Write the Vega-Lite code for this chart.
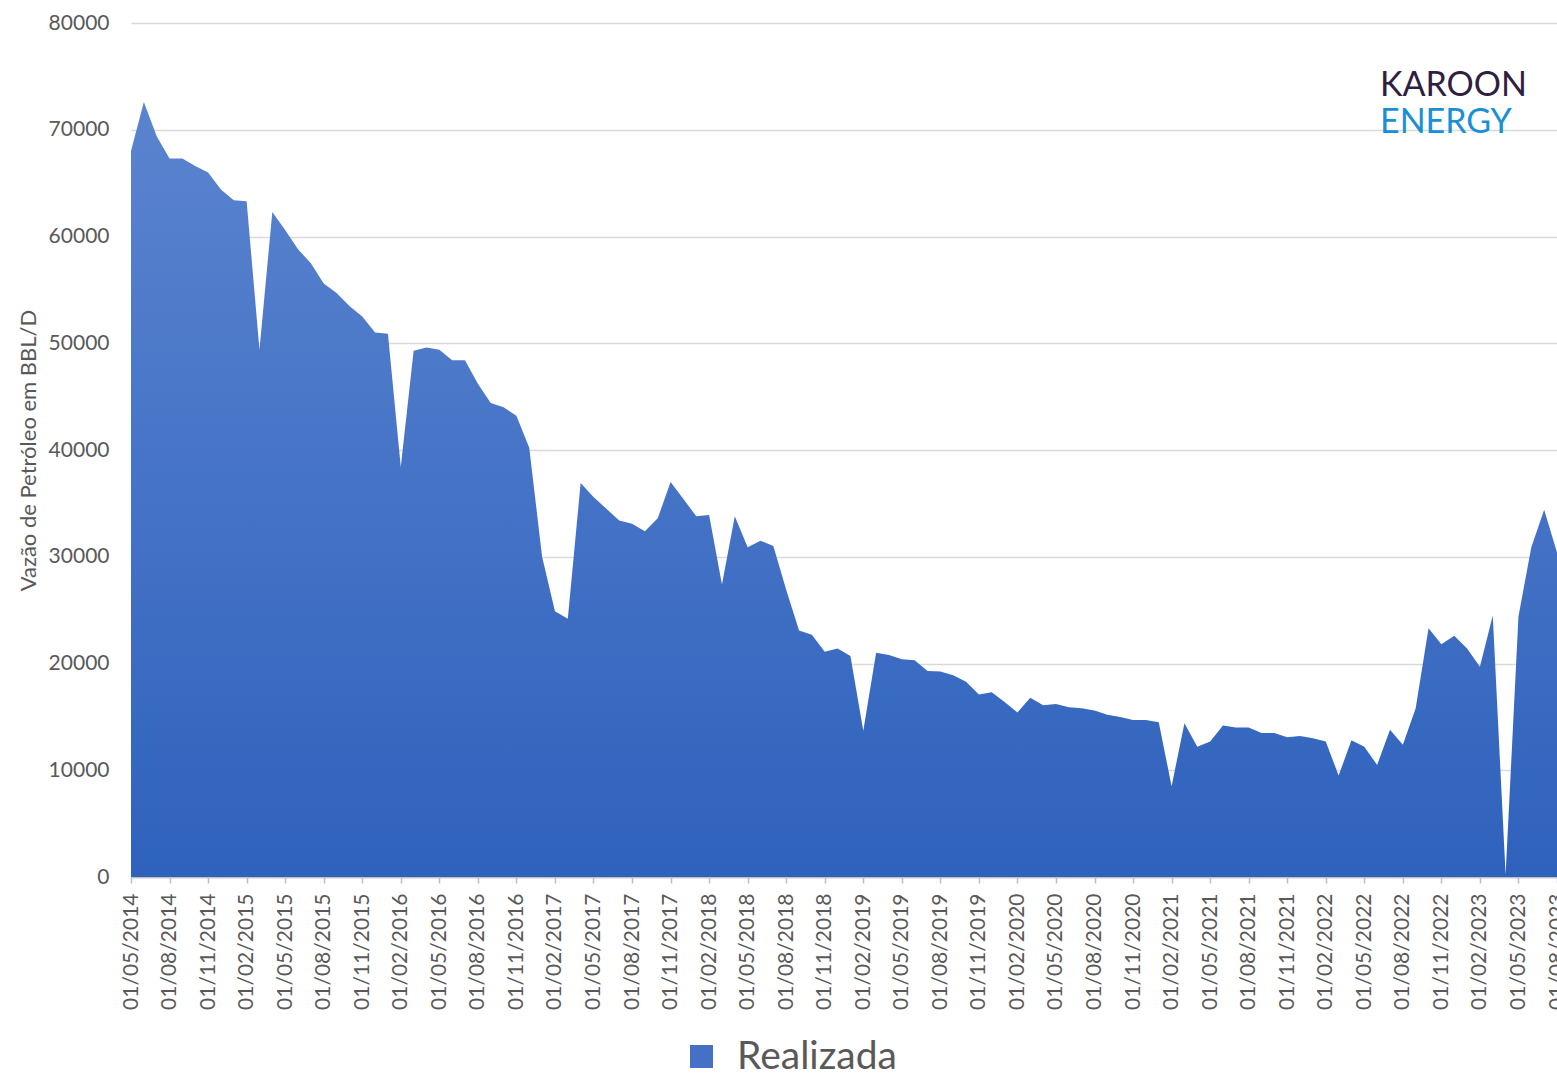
{
  "$schema": "https://vega.github.io/schema/vega-lite/v6.json",
  "autosize": {"type": "none"},
  "width": 1426,
  "height": 854,
  "padding": {"left": 131, "top": 23, "right": 0, "bottom": 198},
  "background": "white",
  "title": {
    "text": "KAROON",
    "subtitle": "ENERGY",
    "anchor": "start",
    "frame": "group",
    "dx": 1249,
    "dy": 128,
    "offset": 0,
    "font": "Lato",
    "fontSize": 34,
    "fontWeight": "normal",
    "color": "#2e2040",
    "subtitleFont": "Lato",
    "subtitleFontSize": 34,
    "subtitleColor": "#1b8fd5",
    "subtitlePadding": 3
  },
  "data": {
    "values": [
      {"mes": "01/05/2014", "vazao": 68000, "serie": "Realizada"},
      {"mes": "01/06/2014", "vazao": 72600, "serie": "Realizada"},
      {"mes": "01/07/2014", "vazao": 69400, "serie": "Realizada"},
      {"mes": "01/08/2014", "vazao": 67300, "serie": "Realizada"},
      {"mes": "01/09/2014", "vazao": 67300, "serie": "Realizada"},
      {"mes": "01/10/2014", "vazao": 66600, "serie": "Realizada"},
      {"mes": "01/11/2014", "vazao": 66000, "serie": "Realizada"},
      {"mes": "01/12/2014", "vazao": 64400, "serie": "Realizada"},
      {"mes": "01/01/2015", "vazao": 63400, "serie": "Realizada"},
      {"mes": "01/02/2015", "vazao": 63300, "serie": "Realizada"},
      {"mes": "01/03/2015", "vazao": 49400, "serie": "Realizada"},
      {"mes": "01/04/2015", "vazao": 62300, "serie": "Realizada"},
      {"mes": "01/05/2015", "vazao": 60600, "serie": "Realizada"},
      {"mes": "01/06/2015", "vazao": 58800, "serie": "Realizada"},
      {"mes": "01/07/2015", "vazao": 57500, "serie": "Realizada"},
      {"mes": "01/08/2015", "vazao": 55600, "serie": "Realizada"},
      {"mes": "01/09/2015", "vazao": 54700, "serie": "Realizada"},
      {"mes": "01/10/2015", "vazao": 53500, "serie": "Realizada"},
      {"mes": "01/11/2015", "vazao": 52500, "serie": "Realizada"},
      {"mes": "01/12/2015", "vazao": 51000, "serie": "Realizada"},
      {"mes": "01/01/2016", "vazao": 50900, "serie": "Realizada"},
      {"mes": "01/02/2016", "vazao": 38400, "serie": "Realizada"},
      {"mes": "01/03/2016", "vazao": 49300, "serie": "Realizada"},
      {"mes": "01/04/2016", "vazao": 49600, "serie": "Realizada"},
      {"mes": "01/05/2016", "vazao": 49400, "serie": "Realizada"},
      {"mes": "01/06/2016", "vazao": 48400, "serie": "Realizada"},
      {"mes": "01/07/2016", "vazao": 48400, "serie": "Realizada"},
      {"mes": "01/08/2016", "vazao": 46200, "serie": "Realizada"},
      {"mes": "01/09/2016", "vazao": 44400, "serie": "Realizada"},
      {"mes": "01/10/2016", "vazao": 44000, "serie": "Realizada"},
      {"mes": "01/11/2016", "vazao": 43200, "serie": "Realizada"},
      {"mes": "01/12/2016", "vazao": 40200, "serie": "Realizada"},
      {"mes": "01/01/2017", "vazao": 30000, "serie": "Realizada"},
      {"mes": "01/02/2017", "vazao": 24900, "serie": "Realizada"},
      {"mes": "01/03/2017", "vazao": 24200, "serie": "Realizada"},
      {"mes": "01/04/2017", "vazao": 36900, "serie": "Realizada"},
      {"mes": "01/05/2017", "vazao": 35600, "serie": "Realizada"},
      {"mes": "01/06/2017", "vazao": 34500, "serie": "Realizada"},
      {"mes": "01/07/2017", "vazao": 33400, "serie": "Realizada"},
      {"mes": "01/08/2017", "vazao": 33100, "serie": "Realizada"},
      {"mes": "01/09/2017", "vazao": 32400, "serie": "Realizada"},
      {"mes": "01/10/2017", "vazao": 33600, "serie": "Realizada"},
      {"mes": "01/11/2017", "vazao": 37000, "serie": "Realizada"},
      {"mes": "01/12/2017", "vazao": 35400, "serie": "Realizada"},
      {"mes": "01/01/2018", "vazao": 33800, "serie": "Realizada"},
      {"mes": "01/02/2018", "vazao": 33900, "serie": "Realizada"},
      {"mes": "01/03/2018", "vazao": 27400, "serie": "Realizada"},
      {"mes": "01/04/2018", "vazao": 33800, "serie": "Realizada"},
      {"mes": "01/05/2018", "vazao": 30900, "serie": "Realizada"},
      {"mes": "01/06/2018", "vazao": 31500, "serie": "Realizada"},
      {"mes": "01/07/2018", "vazao": 31000, "serie": "Realizada"},
      {"mes": "01/08/2018", "vazao": 26900, "serie": "Realizada"},
      {"mes": "01/09/2018", "vazao": 23100, "serie": "Realizada"},
      {"mes": "01/10/2018", "vazao": 22700, "serie": "Realizada"},
      {"mes": "01/11/2018", "vazao": 21100, "serie": "Realizada"},
      {"mes": "01/12/2018", "vazao": 21400, "serie": "Realizada"},
      {"mes": "01/01/2019", "vazao": 20700, "serie": "Realizada"},
      {"mes": "01/02/2019", "vazao": 13700, "serie": "Realizada"},
      {"mes": "01/03/2019", "vazao": 21000, "serie": "Realizada"},
      {"mes": "01/04/2019", "vazao": 20800, "serie": "Realizada"},
      {"mes": "01/05/2019", "vazao": 20400, "serie": "Realizada"},
      {"mes": "01/06/2019", "vazao": 20300, "serie": "Realizada"},
      {"mes": "01/07/2019", "vazao": 19300, "serie": "Realizada"},
      {"mes": "01/08/2019", "vazao": 19250, "serie": "Realizada"},
      {"mes": "01/09/2019", "vazao": 18900, "serie": "Realizada"},
      {"mes": "01/10/2019", "vazao": 18300, "serie": "Realizada"},
      {"mes": "01/11/2019", "vazao": 17100, "serie": "Realizada"},
      {"mes": "01/12/2019", "vazao": 17300, "serie": "Realizada"},
      {"mes": "01/01/2020", "vazao": 16400, "serie": "Realizada"},
      {"mes": "01/02/2020", "vazao": 15400, "serie": "Realizada"},
      {"mes": "01/03/2020", "vazao": 16800, "serie": "Realizada"},
      {"mes": "01/04/2020", "vazao": 16100, "serie": "Realizada"},
      {"mes": "01/05/2020", "vazao": 16200, "serie": "Realizada"},
      {"mes": "01/06/2020", "vazao": 15900, "serie": "Realizada"},
      {"mes": "01/07/2020", "vazao": 15800, "serie": "Realizada"},
      {"mes": "01/08/2020", "vazao": 15600, "serie": "Realizada"},
      {"mes": "01/09/2020", "vazao": 15200, "serie": "Realizada"},
      {"mes": "01/10/2020", "vazao": 15000, "serie": "Realizada"},
      {"mes": "01/11/2020", "vazao": 14700, "serie": "Realizada"},
      {"mes": "01/12/2020", "vazao": 14700, "serie": "Realizada"},
      {"mes": "01/01/2021", "vazao": 14500, "serie": "Realizada"},
      {"mes": "01/02/2021", "vazao": 8500, "serie": "Realizada"},
      {"mes": "01/03/2021", "vazao": 14400, "serie": "Realizada"},
      {"mes": "01/04/2021", "vazao": 12200, "serie": "Realizada"},
      {"mes": "01/05/2021", "vazao": 12700, "serie": "Realizada"},
      {"mes": "01/06/2021", "vazao": 14200, "serie": "Realizada"},
      {"mes": "01/07/2021", "vazao": 14000, "serie": "Realizada"},
      {"mes": "01/08/2021", "vazao": 14000, "serie": "Realizada"},
      {"mes": "01/09/2021", "vazao": 13500, "serie": "Realizada"},
      {"mes": "01/10/2021", "vazao": 13500, "serie": "Realizada"},
      {"mes": "01/11/2021", "vazao": 13100, "serie": "Realizada"},
      {"mes": "01/12/2021", "vazao": 13200, "serie": "Realizada"},
      {"mes": "01/01/2022", "vazao": 13000, "serie": "Realizada"},
      {"mes": "01/02/2022", "vazao": 12700, "serie": "Realizada"},
      {"mes": "01/03/2022", "vazao": 9500, "serie": "Realizada"},
      {"mes": "01/04/2022", "vazao": 12800, "serie": "Realizada"},
      {"mes": "01/05/2022", "vazao": 12200, "serie": "Realizada"},
      {"mes": "01/06/2022", "vazao": 10500, "serie": "Realizada"},
      {"mes": "01/07/2022", "vazao": 13800, "serie": "Realizada"},
      {"mes": "01/08/2022", "vazao": 12400, "serie": "Realizada"},
      {"mes": "01/09/2022", "vazao": 15800, "serie": "Realizada"},
      {"mes": "01/10/2022", "vazao": 23300, "serie": "Realizada"},
      {"mes": "01/11/2022", "vazao": 21800, "serie": "Realizada"},
      {"mes": "01/12/2022", "vazao": 22600, "serie": "Realizada"},
      {"mes": "01/01/2023", "vazao": 21400, "serie": "Realizada"},
      {"mes": "01/02/2023", "vazao": 19700, "serie": "Realizada"},
      {"mes": "01/03/2023", "vazao": 24500, "serie": "Realizada"},
      {"mes": "01/04/2023", "vazao": 200, "serie": "Realizada"},
      {"mes": "01/05/2023", "vazao": 24400, "serie": "Realizada"},
      {"mes": "01/06/2023", "vazao": 30900, "serie": "Realizada"},
      {"mes": "01/07/2023", "vazao": 34400, "serie": "Realizada"},
      {"mes": "01/08/2023", "vazao": 30400, "serie": "Realizada"}
    ]
  },
  "encoding": {
    "x": {
      "field": "mes",
      "type": "ordinal",
      "sort": null,
      "scale": {"type": "point", "padding": 0},
      "axis": {
        "title": null,
        "values": ["01/05/2014","01/08/2014","01/11/2014","01/02/2015","01/05/2015","01/08/2015","01/11/2015","01/02/2016","01/05/2016","01/08/2016","01/11/2016","01/02/2017","01/05/2017","01/08/2017","01/11/2017","01/02/2018","01/05/2018","01/08/2018","01/11/2018","01/02/2019","01/05/2019","01/08/2019","01/11/2019","01/02/2020","01/05/2020","01/08/2020","01/11/2020","01/02/2021","01/05/2021","01/08/2021","01/11/2021","01/02/2022","01/05/2022","01/08/2022","01/11/2022","01/02/2023","01/05/2023","01/08/2023"],
        "labelAngle": -90,
        "labelFont": "Lato",
        "labelFontSize": 21,
        "labelColor": "#595959",
        "labelPadding": 10,
        "labelOverlap": false,
        "labelBound": false,
        "labelFlush": false,
        "domainColor": "#bfbfbf",
        "domainWidth": 1.5,
        "tickColor": "#bfbfbf",
        "tickSize": 6,
        "tickWidth": 1.5,
        "grid": false
      }
    },
    "y": {
      "field": "vazao",
      "type": "quantitative",
      "scale": {"domain": [0, 80000], "nice": false},
      "axis": {
        "title": "Vazão de Petróleo em BBL/D",
        "titleFont": "Lato",
        "titleFontSize": 22,
        "titleFontWeight": "normal",
        "titleColor": "#595959",
        "titlePadding": 8,
        "values": [0, 10000, 20000, 30000, 40000, 50000, 60000, 70000, 80000],
        "format": "d",
        "labelFont": "Lato",
        "labelFontSize": 21,
        "labelColor": "#595959",
        "labelPadding": 22,
        "ticks": false,
        "domain": false,
        "grid": true,
        "gridColor": "#d9d9d9",
        "gridWidth": 1.5
      }
    }
  },
  "layer": [
    {
      "mark": {
        "type": "area",
        "interpolate": "linear",
        "color": {"gradient": "linear", "x1": 0, "y1": 0, "x2": 0, "y2": 1, "stops": [{"offset": 0, "color": "#5b84cf"}, {"offset": 1, "color": "#2f62bd"}]}
      }
    },
    {
      "mark": {"type": "point", "shape": "square", "filled": true, "opacity": 0},
      "encoding": {
        "color": {
          "field": "serie",
          "type": "nominal",
          "scale": {"domain": ["Realizada"], "range": ["#4471c6"]},
          "legend": {
            "title": null,
            "orient": "none",
            "legendX": 551,
            "legendY": 1014,
            "symbolType": "square",
            "symbolSize": 529,
            "symbolOpacity": 1,
            "symbolStrokeWidth": 0,
            "labelFont": "Lato",
            "labelFontSize": 39,
            "labelColor": "#595959",
            "labelOffset": 16
          }
        }
      }
    }
  ],
  "config": {
    "view": {"stroke": null}
  }
}
